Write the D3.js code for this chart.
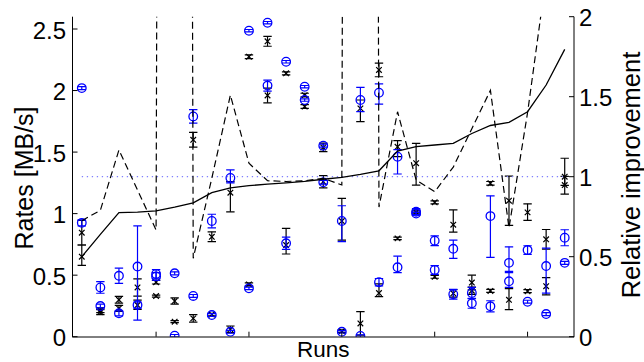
<!DOCTYPE html>
<html><head><meta charset="utf-8">
<script src="https://cdn.jsdelivr.net/npm/d3@7"></script>
<style>
html,body{margin:0;padding:0;background:#fff;}
svg{display:block;font-family:"Liberation Sans",Arial,Helvetica,sans-serif;}
</style></head>
<body>
<svg id="c" width="644" height="362"></svg>
<script>
// ---- data ----
const runs = [1,2,3,4,5,6,7,8,9,10,11,12,13,14,15,16,17,18,19,20,21,22,23,24,25,26,27];
const xTicks = [5,10,15,20,25];
const leftTicks = [0,0.5,1,1.5,2,2.5];
const rightTicks = [0,0.5,1,1.5,2];

// relative improvement (right axis)
const improvementSorted = [0.50,0.64,0.775,0.779,0.787,0.81,0.837,0.90,0.93,0.944,0.954,0.962,0.971,0.984,0.996,1.015,1.037,1.16,1.1875,1.198,1.208,1.27,1.32,1.34,1.406,1.573,1.796];
const improvementRaw = [0.725,0.79,1.167,0.917,0.667,40,0.49,0.99,1.51,1.084,0.975,0.97,0.975,0.99,0.948,40,0.81,1.406,0.98,0.906,1.06,1.30,1.54,0.68,1.40,2.25,3.0];
const referenceLevel = [1,1];

// rates (left axis): blue circles
const blueA = [2.02,0.40,0.495,0.57,0.51,0.515,1.79,0.94,1.29,2.486,2.551,2.234,2.031,1.552,0.94,1.923,1.982,1.462,1.015,0.78,0.714,0.355,0.98,0.60,0.704,0.574,0.804];
const blueAMinus = [0.012,0.047,0.062,0.435,0.035,0.012,0.055,0.055,0.04,0.01,0.01,0.01,0.01,0.012,0.168,0.095,0.092,0.14,0.025,0.04,0.077,0.045,0.335,0.07,0.035,0.22,0.065];
const blueAPlus  = [0.012,0.047,0.062,0.33,0.035,0.012,0.055,0.055,0.065,0.01,0.01,0.01,0.01,0.012,0.124,0.103,0.073,0.058,0.025,0.04,0.071,0.045,0.165,0.13,0.035,0.145,0.065];
const blueB = [0.925,0.249,0.19,0.257,0.49,0.008,0.331,0.176,0.04,0.393,2.04,0.759,1.923,1.254,0.04,0.006,0.443,0.564,1.0,0.542,0.345,0.271,0.247,0.45,0.284,0.184,0.60];
const blueBMinus = [0.025,0.015,0.02,0.025,0.03,0.01,0.012,0.012,0.012,0.01,0.045,0.05,0.01,0.015,0.01,0.01,0.03,0.044,0.01,0.035,0.04,0.04,0.045,0.05,0.012,0.012,0.012];
const blueBPlus  = [0.025,0.015,0.02,0.025,0.03,0.01,0.012,0.012,0.012,0.01,0.045,0.05,0.01,0.015,0.01,0.01,0.03,0.09,0.01,0.035,0.04,0.04,0.045,0.07,0.012,0.012,0.012];

// rates (left axis): black crosses
const blackA = [0.845,0.215,0.30,0.40,0.443,0.29,1.60,0.812,1.17,2.275,2.40,2.14,1.963,1.538,0.94,1.855,2.167,1.543,1.41,1.092,0.91,0.44,1.246,1.105,1.01,0.791,1.30];
const blackAMinus = [0.1,0.02,0.027,0.07,0.015,0.025,0.06,0.04,0.155,0.015,0.04,0.012,0.015,0.035,0.155,0.108,0.055,0.08,0.178,0.012,0.06,0.06,0.015,0.2,0.065,0.08,0.07];
const blackAPlus  = [0.1,0.02,0.027,0.07,0.015,0.025,0.06,0.04,0.09,0.015,0.04,0.012,0.015,0.035,0.184,0.068,0.055,0.05,0.161,0.012,0.12,0.06,0.015,0.2,0.07,0.08,0.15];
const blackB = [0.65,0.20,0.23,0.257,0.33,0.122,0.149,0.18,0.06,0.425,1.96,0.745,1.87,1.259,0.045,0.108,0.355,0.799,1.01,0.487,0.352,0.374,0.372,0.30,0.37,0.41,1.232];
const blackBMinus = [0.07,0.02,0.025,0.035,0.008,0.008,0.03,0.01,0.027,0.012,0.06,0.073,0.015,0.05,0.01,0.095,0.03,0.01,0.012,0.012,0.03,0.03,0.012,0.08,0.012,0.07,0.073];
const blackBPlus  = [0.095,0.02,0.025,0.04,0.008,0.008,0.03,0.01,0.027,0.012,0.06,0.135,0.015,0.05,0.01,0.095,0.075,0.01,0.012,0.012,0.03,0.03,0.012,0.09,0.012,0.07,0.07];

// ---- layout ----
const L = 72.5, R = 574, T = 16.7, B = 336.7;
const svg = d3.select("#c");
const x = d3.scaleLinear().domain([0.5, 27.5]).range([L, R]);
const yL = d3.scaleLinear().domain([0, 2.6]).range([B, T]);
const yR = d3.scaleLinear().domain([0, 2]).range([B, T]);

svg.append("clipPath").attr("id","clip").append("rect")
  .attr("x",L).attr("y",T).attr("width",R-L).attr("height",B-T);
const plot = svg.append("g").attr("clip-path","url(#clip)");

function errSeries(vals, minus, plus, color, kind){
  const g = plot.append("g");
  const cw = 4.2;
  runs.forEach((r,i)=>{
    const cx = x(r), lo = yL(vals[i]-minus[i]), hi = yL(vals[i]+plus[i]);
    g.append("line").attr("x1",cx).attr("x2",cx).attr("y1",lo).attr("y2",hi)
      .attr("stroke",color).attr("stroke-width",1.2);
    [lo,hi].forEach(yy=>g.append("line").attr("x1",cx-cw).attr("x2",cx+cw)
      .attr("y1",yy).attr("y2",yy).attr("stroke",color).attr("stroke-width",1.2));
    const cy = yL(vals[i]);
    if(kind==="o"){
      g.append("circle").attr("cx",cx).attr("cy",cy).attr("r",4.3)
        .attr("fill","none").attr("stroke",color).attr("stroke-width",1.3);
    } else {
      const s = 2.8;
      g.append("path").attr("d",`M${cx-s},${cy-s}L${cx+s},${cy+s}M${cx-s},${cy+s}L${cx+s},${cy-s}`)
        .attr("stroke",color).attr("stroke-width",1.2).attr("fill","none");
    }
  });
}
errSeries(blackA, blackAMinus, blackAPlus, "#000", "x");
errSeries(blackB, blackBMinus, blackBPlus, "#000", "x");
errSeries(blueA, blueAMinus, blueAPlus, "#0000ff", "o");
errSeries(blueB, blueBMinus, blueBPlus, "#0000ff", "o");

// reference dotted line at 1
plot.append("path")
  .attr("d", d3.line().x((d,i)=>x(i===0?runs[0]:runs[runs.length-1])).y(d=>yR(d))(referenceLevel))
  .attr("stroke","#7f7fff").attr("stroke-width",1.3).attr("stroke-dasharray","1.3,3.7").attr("fill","none");

const lineR = d3.line().x((d,i)=>x(runs[i])).y(d=>yR(d));
plot.append("path").attr("d", lineR(improvementRaw))
  .attr("stroke","#000").attr("stroke-width",1.2).attr("stroke-dasharray","7,4").attr("fill","none");
plot.append("path").attr("d", lineR(improvementSorted))
  .attr("stroke","#000").attr("stroke-width",1.3).attr("fill","none");

// ---- axes ----
const ax = svg.append("g").attr("font-size",24).attr("fill","#000");
ax.append("line").attr("x1",L).attr("x2",L).attr("y1",T).attr("y2",B+0.5).attr("stroke","#000");
ax.append("line").attr("x1",R).attr("x2",R).attr("y1",T).attr("y2",B+0.5).attr("stroke","#000");
ax.append("line").attr("x1",L).attr("x2",R).attr("y1",B+0.3).attr("y2",B+0.3).attr("stroke","#000");

leftTicks.forEach(t=>{
  const yy = yL(t);
  ax.append("line").attr("x1",L).attr("x2",L+5).attr("y1",yy).attr("y2",yy).attr("stroke","#000");
  ax.append("text").attr("x",L-6.5).attr("y",yy).attr("dy","0.4em").attr("text-anchor","end").text(String(t));
});
rightTicks.forEach(t=>{
  const yy = yR(t);
  ax.append("line").attr("x1",R-5).attr("x2",R).attr("y1",yy).attr("y2",yy).attr("stroke","#000");
  ax.append("text").attr("x",R+5).attr("y",yy).attr("dy","0.4em").attr("text-anchor","start").text(String(t));
});
xTicks.forEach(t=>{
  const xx = x(t);
  ax.append("line").attr("x1",xx).attr("x2",xx).attr("y1",B).attr("y2",B-5).attr("stroke","#000");
});

ax.append("text").attr("x",(L+R)/2).attr("y",356.5).attr("text-anchor","middle").attr("font-size",22.5).text("Runs");
ax.append("text").attr("transform","translate(33,178) rotate(-90)").attr("text-anchor","middle").attr("font-size",25).text("Rates [MB/s]");
ax.append("text").attr("transform","translate(640,175) rotate(-90)").attr("text-anchor","middle").attr("font-size",25.5).text("Relative improvement");
</script>
</body></html>
